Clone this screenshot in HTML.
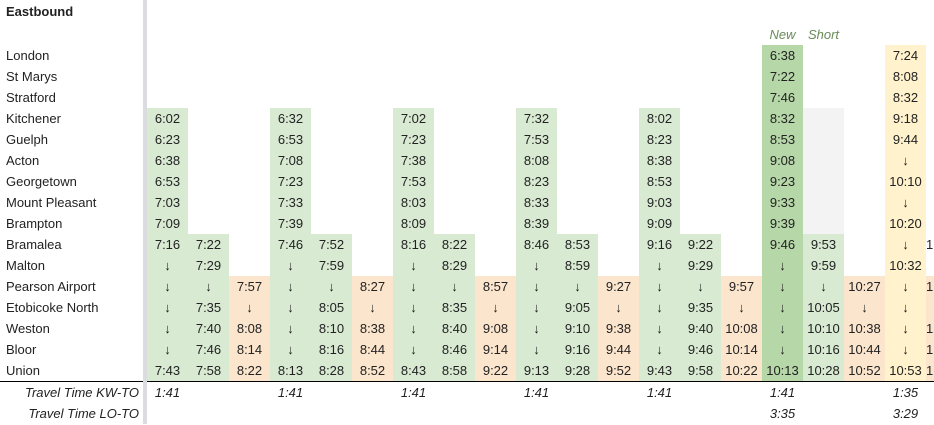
<!DOCTYPE html>
<html><head><meta charset="utf-8"><style>
html,body{margin:0;padding:0;background:#fff;width:934px;height:425px;overflow:hidden}
table{border-collapse:collapse;table-layout:fixed;font-family:"Liberation Sans",Arial,sans-serif;font-size:13px;color:#222}
td{padding:0;height:21px;text-align:center;white-space:nowrap;overflow:hidden;line-height:21px}
td.l{text-align:left;padding-left:6px}
td.v{background:#dadce0}
.g{background:#d9ead3}.o{background:#fce5cd}.y{background:#fff2cc}.d{background:#b6d7a8}.s{background:#f3f3f3}
tr.u td{border-bottom:1px solid #000}
tr.u td.v{border-bottom:none}
.i{font-style:italic}
td.r{text-align:right;padding-right:4px;font-style:italic}
.h{font-style:italic;color:#6a8a5a}
</style></head><body>
<table>
<colgroup><col style="width:143px"><col style="width:4px">
<col style="width:41px"><col style="width:41px"><col style="width:41px"><col style="width:41px"><col style="width:41px"><col style="width:41px"><col style="width:41px"><col style="width:41px"><col style="width:41px"><col style="width:41px"><col style="width:41px"><col style="width:41px"><col style="width:41px"><col style="width:41px"><col style="width:41px"><col style="width:41px"><col style="width:41px"><col style="width:41px"><col style="width:41px"><col style="width:8px"></colgroup>
<tr><td class="l" style="height:24px;font-weight:bold;line-height:24px">Eastbound</td><td class="v"></td><td></td><td></td><td></td><td></td><td></td><td></td><td></td><td></td><td></td><td></td><td></td><td></td><td></td><td></td><td></td><td></td><td></td><td></td><td></td><td></td></tr>
<tr><td class="l"></td><td class="v"></td><td></td><td></td><td></td><td></td><td></td><td></td><td></td><td></td><td></td><td></td><td></td><td></td><td></td><td></td><td></td><td class="h">New</td><td class="h">Short</td><td></td><td></td><td></td></tr>
<tr><td class="l">London</td><td class="v"></td><td></td><td></td><td></td><td></td><td></td><td></td><td></td><td></td><td></td><td></td><td></td><td></td><td></td><td></td><td></td><td class="d">6:38</td><td></td><td></td><td class="y">7:24</td><td></td></tr>
<tr><td class="l">St Marys</td><td class="v"></td><td></td><td></td><td></td><td></td><td></td><td></td><td></td><td></td><td></td><td></td><td></td><td></td><td></td><td></td><td></td><td class="d">7:22</td><td></td><td></td><td class="y">8:08</td><td></td></tr>
<tr><td class="l">Stratford</td><td class="v"></td><td></td><td></td><td></td><td></td><td></td><td></td><td></td><td></td><td></td><td></td><td></td><td></td><td></td><td></td><td></td><td class="d">7:46</td><td></td><td></td><td class="y">8:32</td><td></td></tr>
<tr><td class="l">Kitchener</td><td class="v"></td><td class="g">6:02</td><td></td><td></td><td class="g">6:32</td><td></td><td></td><td class="g">7:02</td><td></td><td></td><td class="g">7:32</td><td></td><td></td><td class="g">8:02</td><td></td><td></td><td class="d">8:32</td><td class="s"></td><td></td><td class="y">9:18</td><td></td></tr>
<tr><td class="l">Guelph</td><td class="v"></td><td class="g">6:23</td><td></td><td></td><td class="g">6:53</td><td></td><td></td><td class="g">7:23</td><td></td><td></td><td class="g">7:53</td><td></td><td></td><td class="g">8:23</td><td></td><td></td><td class="d">8:53</td><td class="s"></td><td></td><td class="y">9:44</td><td></td></tr>
<tr><td class="l">Acton</td><td class="v"></td><td class="g">6:38</td><td></td><td></td><td class="g">7:08</td><td></td><td></td><td class="g">7:38</td><td></td><td></td><td class="g">8:08</td><td></td><td></td><td class="g">8:38</td><td></td><td></td><td class="d">9:08</td><td class="s"></td><td></td><td class="y">↓</td><td></td></tr>
<tr><td class="l">Georgetown</td><td class="v"></td><td class="g">6:53</td><td></td><td></td><td class="g">7:23</td><td></td><td></td><td class="g">7:53</td><td></td><td></td><td class="g">8:23</td><td></td><td></td><td class="g">8:53</td><td></td><td></td><td class="d">9:23</td><td class="s"></td><td></td><td class="y">10:10</td><td></td></tr>
<tr><td class="l">Mount Pleasant</td><td class="v"></td><td class="g">7:03</td><td></td><td></td><td class="g">7:33</td><td></td><td></td><td class="g">8:03</td><td></td><td></td><td class="g">8:33</td><td></td><td></td><td class="g">9:03</td><td></td><td></td><td class="d">9:33</td><td class="s"></td><td></td><td class="y">↓</td><td></td></tr>
<tr><td class="l">Brampton</td><td class="v"></td><td class="g">7:09</td><td></td><td></td><td class="g">7:39</td><td></td><td></td><td class="g">8:09</td><td></td><td></td><td class="g">8:39</td><td></td><td></td><td class="g">9:09</td><td></td><td></td><td class="d">9:39</td><td class="s"></td><td></td><td class="y">10:20</td><td></td></tr>
<tr><td class="l">Bramalea</td><td class="v"></td><td class="g">7:16</td><td class="g">7:22</td><td></td><td class="g">7:46</td><td class="g">7:52</td><td></td><td class="g">8:16</td><td class="g">8:22</td><td></td><td class="g">8:46</td><td class="g">8:53</td><td></td><td class="g">9:16</td><td class="g">9:22</td><td></td><td class="d">9:46</td><td class="g">9:53</td><td></td><td class="y">↓</td><td style="text-align:left">1</td></tr>
<tr><td class="l">Malton</td><td class="v"></td><td class="g">↓</td><td class="g">7:29</td><td></td><td class="g">↓</td><td class="g">7:59</td><td></td><td class="g">↓</td><td class="g">8:29</td><td></td><td class="g">↓</td><td class="g">8:59</td><td></td><td class="g">↓</td><td class="g">9:29</td><td></td><td class="d">↓</td><td class="g">9:59</td><td></td><td class="y">10:32</td><td></td></tr>
<tr><td class="l">Pearson Airport</td><td class="v"></td><td class="g">↓</td><td class="g">↓</td><td class="o">7:57</td><td class="g">↓</td><td class="g">↓</td><td class="o">8:27</td><td class="g">↓</td><td class="g">↓</td><td class="o">8:57</td><td class="g">↓</td><td class="g">↓</td><td class="o">9:27</td><td class="g">↓</td><td class="g">↓</td><td class="o">9:57</td><td class="d">↓</td><td class="g">↓</td><td class="o">10:27</td><td class="y">↓</td><td class="o" style="text-align:left">1</td></tr>
<tr><td class="l">Etobicoke North</td><td class="v"></td><td class="g">↓</td><td class="g">7:35</td><td class="o">↓</td><td class="g">↓</td><td class="g">8:05</td><td class="o">↓</td><td class="g">↓</td><td class="g">8:35</td><td class="o">↓</td><td class="g">↓</td><td class="g">9:05</td><td class="o">↓</td><td class="g">↓</td><td class="g">9:35</td><td class="o">↓</td><td class="d">↓</td><td class="g">10:05</td><td class="o">↓</td><td class="y">↓</td><td class="o"></td></tr>
<tr><td class="l">Weston</td><td class="v"></td><td class="g">↓</td><td class="g">7:40</td><td class="o">8:08</td><td class="g">↓</td><td class="g">8:10</td><td class="o">8:38</td><td class="g">↓</td><td class="g">8:40</td><td class="o">9:08</td><td class="g">↓</td><td class="g">9:10</td><td class="o">9:38</td><td class="g">↓</td><td class="g">9:40</td><td class="o">10:08</td><td class="d">↓</td><td class="g">10:10</td><td class="o">10:38</td><td class="y">↓</td><td class="o" style="text-align:left">1</td></tr>
<tr><td class="l">Bloor</td><td class="v"></td><td class="g">↓</td><td class="g">7:46</td><td class="o">8:14</td><td class="g">↓</td><td class="g">8:16</td><td class="o">8:44</td><td class="g">↓</td><td class="g">8:46</td><td class="o">9:14</td><td class="g">↓</td><td class="g">9:16</td><td class="o">9:44</td><td class="g">↓</td><td class="g">9:46</td><td class="o">10:14</td><td class="d">↓</td><td class="g">10:16</td><td class="o">10:44</td><td class="y">↓</td><td class="o" style="text-align:left">1</td></tr>
<tr class="u"><td class="l">Union</td><td class="v"></td><td class="g">7:43</td><td class="g">7:58</td><td class="o">8:22</td><td class="g">8:13</td><td class="g">8:28</td><td class="o">8:52</td><td class="g">8:43</td><td class="g">8:58</td><td class="o">9:22</td><td class="g">9:13</td><td class="g">9:28</td><td class="o">9:52</td><td class="g">9:43</td><td class="g">9:58</td><td class="o">10:22</td><td class="d">10:13</td><td class="g">10:28</td><td class="o">10:52</td><td class="y">10:53</td><td class="o" style="text-align:left">1</td></tr>
<tr><td class="r">Travel Time KW-TO</td><td class="v"></td><td class="i">1:41</td><td></td><td></td><td class="i">1:41</td><td></td><td></td><td class="i">1:41</td><td></td><td></td><td class="i">1:41</td><td></td><td></td><td class="i">1:41</td><td></td><td></td><td class="i">1:41</td><td></td><td></td><td class="i">1:35</td><td></td></tr>
<tr><td class="r">Travel Time LO-TO</td><td class="v"></td><td></td><td></td><td></td><td></td><td></td><td></td><td></td><td></td><td></td><td></td><td></td><td></td><td></td><td></td><td></td><td class="i">3:35</td><td></td><td></td><td class="i">3:29</td><td></td></tr>
</table>
</body></html>
